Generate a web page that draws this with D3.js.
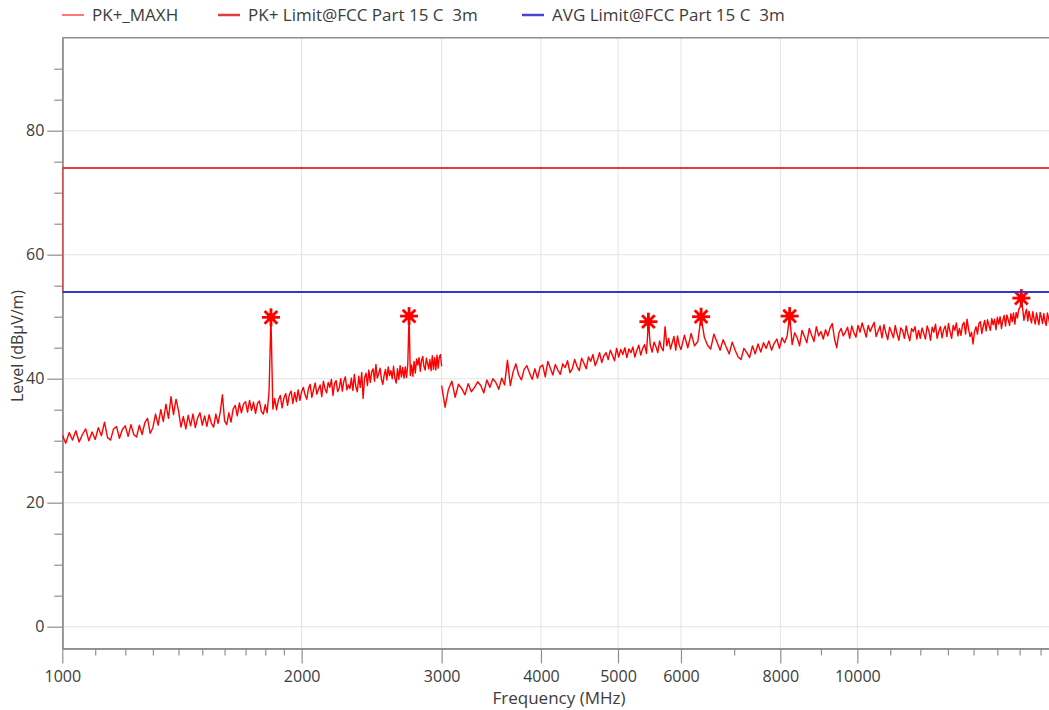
<!DOCTYPE html>
<html>
<head>
<meta charset="utf-8">
<script src="https://cdn.jsdelivr.net/npm/d3@7"></script>
<style>
  html, body { margin: 0; padding: 0; background: #fff; }
  svg { display: block; font-family: "Open Sans", "Noto Sans", sans-serif; }
</style>
</head>
<body>
<svg id="chart" width="1049" height="710"></svg>
<script>
// ---- Sweep data: peak max-hold trace, two receiver subranges ----
// Subrange 1: 1000-3000 MHz, 10 MHz steps
const sweepA = { start: 1000, step: 10 };
const levelsA = [
  30.9, 29.6, 31.3, 30.1, 31.6, 29.8, 31.0, 31.9, 30.0, 31.4,
  30.2, 32.1, 30.8, 33.0, 30.5, 30.1, 31.9, 32.3, 30.4, 31.8,
  32.4, 30.7, 32.6, 31.0, 30.6, 32.5, 31.0, 32.9, 33.6, 31.2,
  32.1, 34.3, 32.5, 35.0, 33.1, 35.9, 33.6, 37.1, 34.2, 36.7,
  34.9, 32.2, 33.9, 31.9, 34.1, 32.4, 34.3, 32.1, 33.7, 34.5,
  32.5, 34.0, 32.3, 34.2, 32.8, 32.2, 34.3, 32.8, 34.6, 37.4,
  33.2, 32.6, 34.5, 33.0, 35.1, 35.7, 34.0, 36.1, 34.5, 35.9,
  36.3, 34.6, 36.5, 34.9, 36.2, 34.4, 36.0, 36.4, 34.7, 34.3,
  35.8, 34.5, 38.0, 49.9, 35.1, 36.8, 35.0, 36.6, 37.3, 35.3,
  36.9, 37.6, 35.7, 37.4, 38.0, 36.0, 37.8, 36.3, 38.2, 36.5,
  37.9, 38.6, 37.4, 36.7, 38.4, 39.1, 37.0, 38.2, 39.3, 37.5,
  38.3, 39.0, 37.1, 39.6, 38.4, 37.7, 39.4, 38.6, 39.9, 37.3,
  39.2, 39.7, 37.9, 38.5, 40.0, 38.0, 39.6, 40.3, 38.2, 39.0,
  38.4, 40.1, 38.1, 40.7, 38.7, 37.9, 40.4, 38.6, 41.0, 36.8,
  40.2, 40.9, 38.9, 41.4, 39.4, 41.1, 41.6, 39.6, 42.3, 40.1,
  40.8, 41.7, 39.9, 39.1, 40.6, 41.5, 39.8, 41.9, 40.5, 41.3,
  40.0, 42.0, 40.1, 39.3, 41.6, 39.9, 42.1, 40.3, 41.8, 40.1,
  41.9, 40.2, 42.4, 50.1, 40.5, 42.2, 40.4, 42.8, 40.9, 43.2,
  42.2, 43.4, 41.2, 42.9, 43.6, 42.0, 41.4, 43.3, 42.5, 41.6,
  43.1, 41.3, 43.7, 41.5, 43.4, 41.4, 43.8, 41.7, 43.5, 43.9,
  42.0
];
// Subrange 2a: 3000-5970 MHz, 30 MHz steps
const sweepB = { start: 3000, step: 30 };
const levelsB = [
  38.9, 35.4, 38.3, 39.6,
  37.0, 39.1, 38.4, 37.4, 39.2, 37.9, 38.6,
  39.5, 38.9, 37.7, 39.8, 38.6, 40.0, 39.4, 38.3, 40.1, 39.0,
  43.0, 38.9, 41.1, 42.4, 40.6, 39.8, 41.5, 42.1, 40.9, 39.9,
  41.6, 40.1, 41.9, 42.2, 40.3, 42.8, 41.7, 40.6, 42.3, 41.4,
  40.7, 42.4, 41.8, 42.9, 41.0, 41.6, 43.1, 42.0, 41.3, 43.3,
  42.5, 41.6, 43.5, 42.8, 43.9, 42.1, 43.0, 44.2, 42.6, 43.7,
  44.2, 43.1, 44.6, 43.8, 42.9, 44.9, 43.5, 44.7, 43.9, 45.0,
  43.4, 44.8, 44.2, 45.1, 43.5, 44.6, 45.4, 43.8, 44.9, 45.5, 44.1,
  49.2,
  45.4, 44.3, 45.9, 45.2, 44.2, 46.1, 45.0, 44.5, 48.4, 45.3, 46.5, 44.8, 45.8, 46.8, 44.6, 46.9, 45.4
];
// Subrange 2b: 6000-18000 MHz, 60 MHz steps
const sweepC = { start: 6000, step: 60 };
const levelsC = [
  44.7, 47.0, 45.0, 47.3, 45.3, 46.0, 50.0,
  46.7, 45.4, 44.8, 47.2, 45.9, 44.6, 46.3, 45.1, 44.0, 45.9,
  44.6, 43.5, 43.1, 44.9, 44.2, 43.4, 45.3, 44.0, 45.6,
  44.3, 45.8, 44.9, 46.1, 44.6, 45.7, 46.4, 44.9, 46.6, 45.8, 46.9,
  50.1,
  45.5, 47.4, 46.6, 45.3, 47.8, 46.8, 45.8, 48.1, 47.0, 46.0, 48.4, 46.9, 47.6,
  46.4, 47.9, 46.9, 48.2, 48.9, 46.4, 45.0, 47.4, 48.1, 46.9, 47.5, 48.3, 46.5, 48.5, 47.4, 46.7, 48.6,
  47.5, 49.0, 47.9, 46.7, 48.6, 47.6, 48.4, 49.1, 46.8, 47.7, 48.5, 46.6, 48.7, 47.4, 46.3, 48.3, 47.5,
  46.6, 48.6, 47.2, 46.2, 48.2, 47.8, 46.5, 48.5, 47.1, 46.1, 48.1, 47.6, 48.4, 46.4, 47.8, 46.5,
  48.2, 47.3, 46.4, 48.5, 47.7, 46.2, 48.3, 47.5, 48.8, 46.5, 47.6, 48.4, 46.6, 47.9, 48.5, 46.8, 48.9,
  47.6, 46.5, 48.6, 47.8, 49.0, 46.9, 48.1, 47.0, 48.7, 49.1, 47.2, 49.6, 48.0, 46.8, 47.5, 45.6,
  47.6, 48.4, 47.2, 48.9, 49.2, 47.3, 48.5, 49.4, 47.7, 49.5, 48.6, 47.8, 49.7, 48.7, 49.6, 47.9, 49.9,
  48.8, 50.0, 48.1, 49.4, 50.2, 48.5, 50.3, 49.5, 48.6, 50.5, 49.2, 50.6, 48.8, 50.7, 49.8, 51.2, 51.5,
  53.0,
  51.3, 49.4, 50.4, 51.2, 49.3, 50.9, 49.8, 49.0, 50.8, 49.7, 48.8, 50.6, 49.6, 48.7, 50.7, 49.9,
  48.9, 50.5, 49.3, 48.6, 50.6, 49.8, 48.8, 50.4, 49.5, 48.5, 50.5, 49.2, 50.3, 48.7, 49.9, 49.6
];

// Final-measurement peak markers (MHz)
const markerFreqs = [1830, 2730, 5460, 6360, 8220, 16080];

// Limit lines (MHz, dBµV/m)
const pkLimitFreqs = [1000, 1000, 18000];
const pkLimitLevels = [54, 74, 74];
const avgLimitFreqs = [1000, 18000];
const avgLimitLevels = [54, 54];

// Axis ticks
const xMajorTicks = [1000, 2000, 3000, 4000, 5000, 6000, 8000, 10000];
const xMinorTicks = [1100, 1200, 1300, 1400, 1500, 1600, 1700, 1800, 1900, 7000, 9000,
                     11000, 12000, 13000, 14000, 15000, 16000, 17000];
const yMajorTicks = [0, 20, 40, 60, 80];
const yMinorTicks = [5, 10, 15, 25, 30, 35, 45, 50, 55, 65, 70, 75, 85, 90];

const legendItems = [
  { label: "PK+_MAXH", color: "#ff3030", width: 1.3, x: 62 },
  { label: "PK+ Limit@FCC Part 15 C  3m", color: "#e23c3c", width: 2.5, x: 218 },
  { label: "AVG Limit@FCC Part 15 C  3m", color: "#4646cc", width: 2.5, x: 522 }
];

// ---- Build series ----
const toPoints = (sweep, levels) => levels.map((v, i) => ({ f: sweep.start + i * sweep.step, v }));
const traceLow = toPoints(sweepA, levelsA);
const traceHigh = toPoints(sweepB, levelsB).concat(toPoints(sweepC, levelsC));
const allPoints = traceLow.concat(traceHigh);
const markers = markerFreqs.map(f => d3.least(allPoints, p => Math.abs(p.f - f)));

// ---- Layout ----
const svg = d3.select("#chart");
const plotLeft = 62.3, plotRight = 1060.3, plotTop = 37.7, plotBottom = 648.4;

const x = d3.scaleLog().domain([1000, 18000]).range([plotLeft, plotRight]);
const y = d3.scaleLinear().domain([-3.5, 95]).range([plotBottom, plotTop]);

svg.append("rect").attr("width", 1049).attr("height", 710).attr("fill", "#fff");

svg.append("defs").append("clipPath").attr("id", "plotClip")
  .append("rect").attr("x", plotLeft).attr("y", plotTop)
  .attr("width", plotRight - plotLeft).attr("height", plotBottom - plotTop);

// Grid
const grid = svg.append("g").attr("stroke", "#e4e4e4").attr("stroke-width", 1);
grid.selectAll("line.v").data(xMajorTicks.slice(1)).join("line").attr("class", "v")
  .attr("x1", d => x(d)).attr("x2", d => x(d)).attr("y1", plotTop).attr("y2", plotBottom);
grid.selectAll("line.h").data(yMajorTicks).join("line").attr("class", "h")
  .attr("x1", plotLeft).attr("x2", plotRight).attr("y1", d => y(d)).attr("y2", d => y(d));

// Axes
const axisColor = "#8f8f8f";
const fmt = d3.format("d");

const xAxisMajor = svg.append("g").attr("transform", `translate(0,${plotBottom})`)
  .call(d3.axisBottom(x).tickValues(xMajorTicks).tickFormat(fmt).tickSize(15).tickSizeOuter(0).tickPadding(7));
const xAxisMinor = svg.append("g").attr("transform", `translate(0,${plotBottom})`)
  .call(d3.axisBottom(x).tickValues(xMinorTicks).tickFormat("").tickSize(7).tickSizeOuter(0));
const yAxisMajor = svg.append("g").attr("transform", `translate(${plotLeft},0)`)
  .call(d3.axisLeft(y).tickValues(yMajorTicks).tickFormat(fmt).tickSize(15).tickSizeOuter(0).tickPadding(3));
const yAxisMinor = svg.append("g").attr("transform", `translate(${plotLeft},0)`)
  .call(d3.axisLeft(y).tickValues(yMinorTicks).tickFormat("").tickSize(8).tickSizeOuter(0));

[xAxisMajor, xAxisMinor, yAxisMajor, yAxisMinor].forEach(g => {
  g.select(".domain").attr("stroke", axisColor).attr("stroke-width", 1.6);
  g.selectAll(".tick line").attr("stroke", axisColor).attr("stroke-width", 1.2);
  g.selectAll(".tick text").attr("fill", "#3c3c3c").style("font-size", "16px")
    .style("font-family", '"Open Sans", "Noto Sans", sans-serif');
});

// Top frame
svg.append("line").attr("x1", plotLeft).attr("x2", 1049).attr("y1", plotTop).attr("y2", plotTop)
  .attr("stroke", axisColor).attr("stroke-width", 1.6);

// Axis titles
svg.append("text").attr("x", 559).attr("y", 704).attr("text-anchor", "middle")
  .attr("fill", "#3c3c3c").style("font-size", "17px").text("Frequency (MHz)");
svg.append("text").attr("transform", "translate(23,346) rotate(-90)").attr("text-anchor", "middle")
  .attr("fill", "#3c3c3c").style("font-size", "16px").text("Level (dBµV/m)");

// Plot content
const plot = svg.append("g").attr("clip-path", "url(#plotClip)");
const traceLine = d3.line().x(d => x(d.f)).y(d => y(d.v));

[traceLow, traceHigh].forEach(seg => {
  plot.append("path").datum(seg).attr("d", traceLine)
    .attr("fill", "none").attr("stroke", "#ff0000").attr("stroke-width", 1.4)
    .attr("stroke-linejoin", "round");
});

// Peak markers (eight-arm asterisks)
const armAngles = [0, 45, 90, 135];
const mk = plot.selectAll("g.marker").data(markers).join("g")
  .attr("class", "marker")
  .attr("transform", d => `translate(${x(d.f)},${y(d.v)})`);
mk.selectAll("line").data(armAngles).join("line")
  .attr("x1", -9).attr("x2", 9).attr("y1", 0).attr("y2", 0)
  .attr("transform", a => `rotate(${a})`)
  .attr("stroke", "#ff0000").attr("stroke-width", 2.8);
mk.append("circle").attr("r", 4).attr("fill", "#ff0000");

// Limit lines
const limitLine = d3.line().x(d => x(d[0])).y(d => y(d[1]));
plot.append("path").datum(d3.zip(pkLimitFreqs, pkLimitLevels)).attr("d", limitLine)
  .attr("fill", "none").attr("stroke", "#e23c3c").attr("stroke-width", 2);
plot.append("path").datum(d3.zip(avgLimitFreqs, avgLimitLevels)).attr("d", limitLine)
  .attr("fill", "none").attr("stroke", "#3838c8").attr("stroke-width", 2);

// Legend
const lg = svg.append("g").selectAll("g").data(legendItems).join("g")
  .attr("transform", d => `translate(${d.x},0)`);
lg.append("line").attr("x1", 0).attr("x2", 22).attr("y1", 15).attr("y2", 15)
  .attr("stroke", d => d.color).attr("stroke-width", d => d.width);
lg.append("text").attr("x", 30).attr("y", 21).attr("fill", "#3c3c3c")
  .style("font-size", "17px").style("white-space", "pre").text(d => d.label);
</script>
</body>
</html>
